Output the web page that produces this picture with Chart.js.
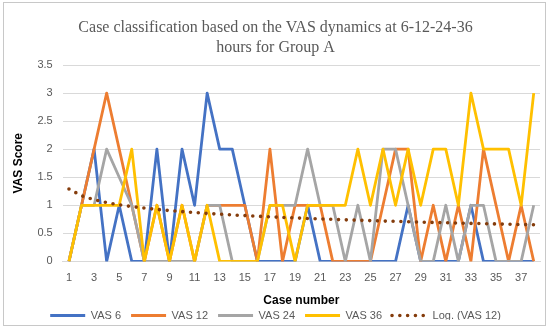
<!DOCTYPE html>
<html>
<head>
<meta charset="utf-8">
<script src="https://cdn.jsdelivr.net/npm/chart.js@4.4.1/dist/chart.umd.min.js"></script>
<style>
  html, body { margin: 0; padding: 0; background: #fff; }
  #wrap { position: relative; width: 550px; height: 328px; }
  #frame { position: absolute; left: 3px; top: 2px; width: 541px; height: 322px;
           border: 1px solid #c8c8c8; pointer-events: none; }
</style>
</head>
<body>
<div id="wrap">
  <canvas id="myChart" width="550" height="328"></canvas>
  <div id="frame"></div>
</div>
<script>
// dữ liệu
const cases = [];
for (let i = 1; i <= 38; i++) cases.push(String(i));

const vas6  = [0,1,2,0,1,0,0,2,0,2,1,3,2,2,1,0,0,0,0,1,0,0,0,0,0,0,0,1,0,0,0,0,1,0,0,0,0,0];
const vas12 = [0,1,2,3,2,1,0,1,0,1,0,1,1,1,1,0,2,0,1,1,1,0,0,0,0,1,2,2,0,1,0,1,0,2,1,0,1,0];
const vas24 = [0,1,1,2,1.5,1,0,0,0,0,0,1,1,0,0,0,1,1,1,2,1,1,0,1,0,2,2,1,0,0,1,0,1,1,0,0,0,1];
const vas36 = [0,1,1,1,1,2,0,1,0,1,0,1,0,0,0,0,1,1,0,1,1,1,1,2,1,2,1,2,1,2,2,1,3,2,2,2,1,3];

const yTicks = [0, 0.5, 1, 1.5, 2, 2.5, 3, 3.5];

// đường xu hướng logarit của VAS 12 (giống Excel: y = a + b ln x)
function logTrend(values) {
    const xs = values.map((_, i) => Math.log(i + 1));
    const n = values.length;
    const mx = xs.reduce((s, v) => s + v, 0) / n;
    const my = values.reduce((s, v) => s + v, 0) / n;
    let sxy = 0, sxx = 0;
    for (let i = 0; i < n; i++) {
        sxy += (xs[i] - mx) * (values[i] - my);
        sxx += (xs[i] - mx) * (xs[i] - mx);
    }
    const b = sxy / sxx;
    const a = my - b * mx;
    return xs.map(x => a + b * x);
}
const trend12 = logTrend(vas12);

const ctx = document.getElementById('myChart');
const font = 'Liberation Sans';

function series(label, data, color, order) {
    return {
        label, data, order,
        borderColor: color,
        backgroundColor: color,
        borderWidth: 2.8,
        pointRadius: 0,
        tension: 0,
        borderJoinStyle: 'round'
    };
}

// chú thích: giữ khoảng cách ngang giữa các mục nhưng bớt khoảng trống dọc
const tightLegend = {
    id: 'tightLegend',
    afterInit(chart) {
        const legend = chart.legend;
        const fit = legend.fit;
        const draw = legend.draw;
        legend.fit = function () {
            fit.call(this);
            this.height -= 11;
        };
        legend.draw = function () {
            this.ctx.save();
            this.ctx.translate(0, -8);
            draw.call(this);
            this.ctx.restore();
        };
    }
};

new Chart(ctx, {
    type: 'line',
    data: {
        labels: cases,
        datasets: [
            series('VAS 6', vas6, '#4472C4', 4),
            series('VAS 12', vas12, '#ED7D31', 3),
            series('VAS 24', vas24, '#A5A5A5', 2),
            series('VAS 36', vas36, '#FFC000', 1),
            {
                label: 'Log. (VAS 12)',
                data: trend12,
                order: 0,
                borderColor: '#843C0C',
                backgroundColor: '#843C0C',
                borderWidth: 3.6,
                borderDash: [0, 7.8],
                borderCapStyle: 'round',
                pointRadius: 0
            }
        ]
    },
    plugins: [tightLegend],
    options: {
        responsive: false,
        animation: false,
        layout: { padding: { left: 11, right: 10, top: 0, bottom: 0 } },
        plugins: {
            title: {
                display: true,
                text: ['Case classification based on the VAS dynamics at 6-12-24-36', 'hours for Group A'],
                color: '#595959',
                font: { family: 'Liberation Serif', size: 16, weight: 'normal', lineHeight: 1.25 },
                padding: { top: 18, bottom: 7 }
            },
            legend: {
                position: 'bottom',
                labels: {
                    usePointStyle: true,
                    pointStyleWidth: 35,
                    boxHeight: 8,
                    padding: 10,
                    color: '#595959',
                    font: { family: font, size: 11 },
                    generateLabels: chart => chart.data.datasets.map((ds, i) => ({
                        text: ds.label,
                        strokeStyle: ds.borderColor,
                        fillStyle: ds.borderColor,
                        lineWidth: ds.borderWidth,
                        lineDash: ds.borderDash || [],
                        lineCap: ds.borderCapStyle || 'butt',
                        pointStyle: 'line',
                        fontColor: '#595959',
                        hidden: false,
                        datasetIndex: i
                    }))
                }
            },
            tooltip: { enabled: false }
        },
        scales: {
            x: {
                offset: true,
                grid: { display: false },
                border: { color: '#d9d9d9' },
                ticks: {
                    autoSkip: false,
                    maxRotation: 0,
                    color: '#595959',
                    font: { family: font, size: 11 },
                    padding: 2,
                    callback: (v, i) => (i % 2 === 0 ? cases[i] : '')
                },
                title: {
                    display: true,
                    text: 'Case number',
                    color: '#000',
                    font: { family: font, size: 12, weight: 'bold' },
                    padding: { top: 7, bottom: 0 }
                }
            },
            y: {
                min: 0,
                max: 3.5,
                afterBuildTicks: axis => { axis.ticks = yTicks.map(v => ({ value: v })); },
                grid: { color: '#d9d9d9', drawTicks: false },
                border: { display: false },
                ticks: {
                    color: '#595959',
                    font: { family: font, size: 11 },
                    padding: 10,
                    callback: v => String(v)
                },
                title: {
                    display: true,
                    text: 'VAS Score',
                    color: '#000',
                    font: { family: font, size: 12, weight: 'bold' },
                    padding: { top: 0, bottom: 2 }
                }
            }
        }
    }
});
</script>
</body>
</html>
